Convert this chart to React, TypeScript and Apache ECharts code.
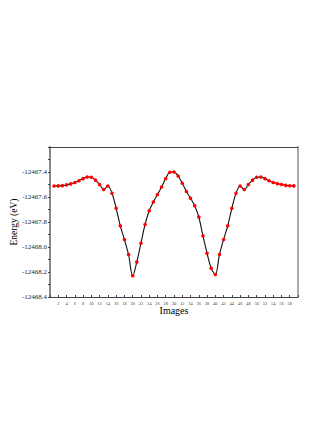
import React, { useEffect, useRef } from "react";
import * as echarts from "echarts";

const images = [
  1, 2, 3, 4, 5, 6, 7, 8, 9, 10, 11, 12, 13, 14, 15, 16, 17, 18, 19, 20,
  21, 22, 23, 24, 25, 26, 27, 28, 29, 30, 31, 32, 33, 34, 35, 36, 37, 38, 39, 40,
  41, 42, 43, 44, 45, 46, 47, 48, 49, 50, 51, 52, 53, 54, 55, 56, 57, 58, 59,
];

const energy = [
  -12467.512, -12467.511, -12467.509, -12467.503, -12467.495, -12467.484, -12467.47, -12467.453, -12467.44, -12467.442,
  -12467.465, -12467.5, -12467.54, -12467.512, -12467.57, -12467.69, -12467.83, -12467.94, -12468.06, -12468.23,
  -12468.12, -12467.97, -12467.82, -12467.71, -12467.64, -12467.58, -12467.52, -12467.452, -12467.402, -12467.4,
  -12467.432, -12467.49, -12467.556, -12467.61, -12467.67, -12467.76, -12467.91, -12468.05, -12468.17, -12468.22,
  -12468.06, -12467.94, -12467.83, -12467.69, -12467.57, -12467.512, -12467.54, -12467.5, -12467.465, -12467.442,
  -12467.44, -12467.453, -12467.47, -12467.484, -12467.493, -12467.5, -12467.507, -12467.51, -12467.511,
];

const xTickLabels = [2, 4, 6, 8, 10, 12, 14, 16, 18, 20, 22, 24, 26, 28, 30, 32, 34, 36, 38, 40, 42, 44, 46, 48, 50, 52, 54, 56, 58];
const yTickLabels = ["-12467.4", "-12467.6", "-12467.8", "-12468.0", "-12468.2", "-12468.4"];

const FONT = "Liberation Serif";

export default function App() {
  const ref = useRef<HTMLDivElement>(null);
  useEffect(() => {
    if (!ref.current) return;
    const chart = echarts.init(ref.current, null, { renderer: "svg" });
    const data = images.map((x, i) => [x, energy[i]]);
    chart.setOption({
      animation: false,
      backgroundColor: "#ffffff",
      grid: { left: 50, right: 34, top: 147, bottom: 133, containLabel: false, outerBoundsMode: "none" },
      xAxis: [
        {
          type: "value",
          min: 0,
          max: 60,
          interval: 2,
          name: "Images",
          nameLocation: "middle",
          nameGap: 8,
          nameMoveOverlap: false,
          nameTextStyle: { fontFamily: FONT, fontSize: 10, color: "#000" },
          axisLine: { show: true, onZero: false, lineStyle: { color: "#444", width: 1 } },
          axisTick: { show: true, inside: true, length: 2, lineStyle: { color: "#444", width: 1 } },
          axisLabel: {
            fontFamily: FONT,
            fontSize: 4.5,
            color: "#444",
            margin: 4,
            formatter: (v: number) => (xTickLabels.includes(Math.round(v)) ? String(Math.round(v)) : ""),
          },
          splitLine: { show: false },
        },
        {
          type: "value",
          position: "top",
          min: 0,
          max: 60,
          axisLine: { show: true, onZero: false, lineStyle: { color: "#444", width: 1 } },
          axisTick: { show: false },
          axisLabel: { show: false },
          splitLine: { show: false },
        },
      ],
      yAxis: [
        {
          type: "value",
          min: -12468.4,
          max: -12467.2,
          interval: 0.2,
          name: "Energy (eV)",
          nameLocation: "middle",
          nameGap: 31,
          nameMoveOverlap: false,
          nameTextStyle: { fontFamily: FONT, fontSize: 9.5, color: "#000" },
          axisLine: { show: true, onZero: false, lineStyle: { color: "#888", width: 2 } },
          axisTick: { show: true, inside: false, length: 2, lineStyle: { color: "#444", width: 1 } },
          minorTick: { show: true, splitNumber: 2, length: 2, lineStyle: { color: "#444", width: 1 } },
          axisLabel: {
            fontFamily: FONT,
            fontSize: 7,
            color: "#222",
            margin: 3,
            formatter: (v: number) => {
              const s = v.toFixed(1);
              return yTickLabels.includes(s) ? s : "";
            },
          },
          splitLine: { show: false },
        },
        {
          type: "value",
          position: "right",
          min: -12468.4,
          max: -12467.2,
          axisLine: { show: true, onZero: false, lineStyle: { color: "#aaa", width: 2 } },
          axisTick: { show: false },
          axisLabel: { show: false },
          splitLine: { show: false },
        },
      ],
      series: [
        {
          type: "line",
          data,
          smooth: 0.35,
          symbol: "circle",
          symbolSize: 3.6,
          itemStyle: { color: "#ff0000" },
          lineStyle: { color: "#111", width: 1.1 },
        },
      ],
    });
    return () => chart.dispose();
  }, []);
  return <div ref={ref} style={{ position: "absolute", left: 0, top: 0, width: 332, height: 430 }} />;
}
